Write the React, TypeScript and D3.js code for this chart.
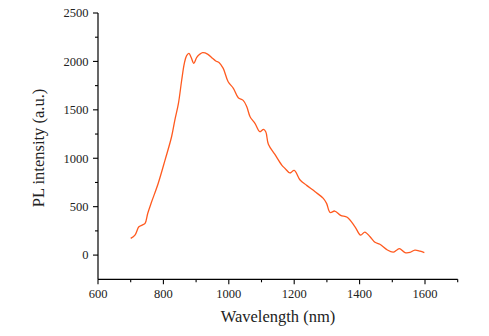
import React from 'react';
import * as d3 from 'd3';

const wavelengths = [700, 713, 725, 735, 744, 752, 764, 784, 805, 825, 835, 846, 856, 864, 871, 878, 885, 893, 902, 912, 920, 935, 950, 960, 970, 983, 998, 1014, 1029, 1044, 1055, 1065, 1080, 1095, 1106, 1113, 1121, 1141, 1162, 1172, 1187, 1200, 1218, 1238, 1264, 1289, 1299, 1310, 1324, 1342, 1362, 1386, 1403, 1416, 1432, 1447, 1462, 1485, 1503, 1513, 1522, 1539, 1554, 1569, 1585, 1598];
const intensities = [172, 206, 292, 310, 327, 430, 550, 740, 981, 1222, 1394, 1567, 1808, 1980, 2060, 2083, 2040, 1980, 2042, 2076, 2090, 2076, 2032, 2005, 1990, 1928, 1790, 1722, 1625, 1598, 1532, 1429, 1360, 1274, 1298, 1274, 1145, 1040, 930, 895, 848, 875, 775, 720, 654, 586, 534, 440, 455, 410, 390, 292, 207, 238, 189, 132, 112, 52, 30, 50, 67, 26, 28, 52, 41, 26];

const xMajorTicks = [600, 800, 1000, 1200, 1400, 1600];
const xMinorTicks = [700, 900, 1100, 1300, 1500, 1700];
const yMajorTicks = [0, 500, 1000, 1500, 2000, 2500];
const yMinorTicks = [250, 750, 1250, 1750, 2250];

const xTitle = 'Wavelength (nm)';
const yTitle = 'PL intensity (a.u.)';

export default function App() {
  const W = 489, H = 336;
  const left = 98, right = 457.7, top = 13, bottom = 279.3;
  const x = d3.scaleLinear().domain([600, 1700]).range([left, right]);
  const y = d3.scaleLinear().domain([-250, 2500]).range([bottom, top]);
  const pts = wavelengths.map((w, i) => [w, intensities[i]] as [number, number]);
  const line = d3.line<[number, number]>()
    .x(d => x(d[0]))
    .y(d => y(d[1]))
    .curve(d3.curveCatmullRom.alpha(0.5));
  const tf: React.CSSProperties = { fontFamily: "'Liberation Serif', serif" };
  return (
    <svg width={W} height={H} style={{ position: 'absolute', left: 0, top: 0, background: '#fff' }}>
      <path d={line(pts) || ''} fill="none" stroke="#ff5a1f" strokeWidth={1.3} strokeLinejoin="round" />
      <line x1={left} x2={left} y1={top} y2={bottom} stroke="#000" strokeWidth={1.2} />
      <line x1={left} x2={right} y1={bottom} y2={bottom} stroke="#000" strokeWidth={1.2} />
      {yMajorTicks.map(t => (
        <g key={'ym' + t}>
          <line x1={left - 5} x2={left} y1={y(t)} y2={y(t)} stroke="#000" strokeWidth={1.1} />
          <text x={left - 9.5} y={y(t)} dy="0.35em" textAnchor="end" style={{ ...tf, fontSize: '12.5px' }} fill="#222">{t}</text>
        </g>
      ))}
      {yMinorTicks.map(t => (
        <line key={'yn' + t} x1={left - 3} x2={left} y1={y(t)} y2={y(t)} stroke="#000" strokeWidth={1.1} />
      ))}
      {xMajorTicks.map(t => (
        <g key={'xm' + t}>
          <line x1={x(t)} x2={x(t)} y1={bottom} y2={bottom + 5} stroke="#000" strokeWidth={1.1} />
          <text x={x(t)} y={bottom + 18.5} textAnchor="middle" style={{ ...tf, fontSize: '12.5px' }} fill="#222">{t}</text>
        </g>
      ))}
      {xMinorTicks.map(t => (
        <line key={'xn' + t} x1={x(t)} x2={x(t)} y1={bottom} y2={bottom + 3} stroke="#000" strokeWidth={1.1} />
      ))}
      <text x={278} y={322} textAnchor="middle" style={{ ...tf, fontSize: '16.5px' }} fill="#222">{xTitle}</text>
      <text transform="translate(43.5,148) rotate(-90)" textAnchor="middle" style={{ ...tf, fontSize: '16.5px' }} fill="#222">{yTitle}</text>
    </svg>
  );
}
